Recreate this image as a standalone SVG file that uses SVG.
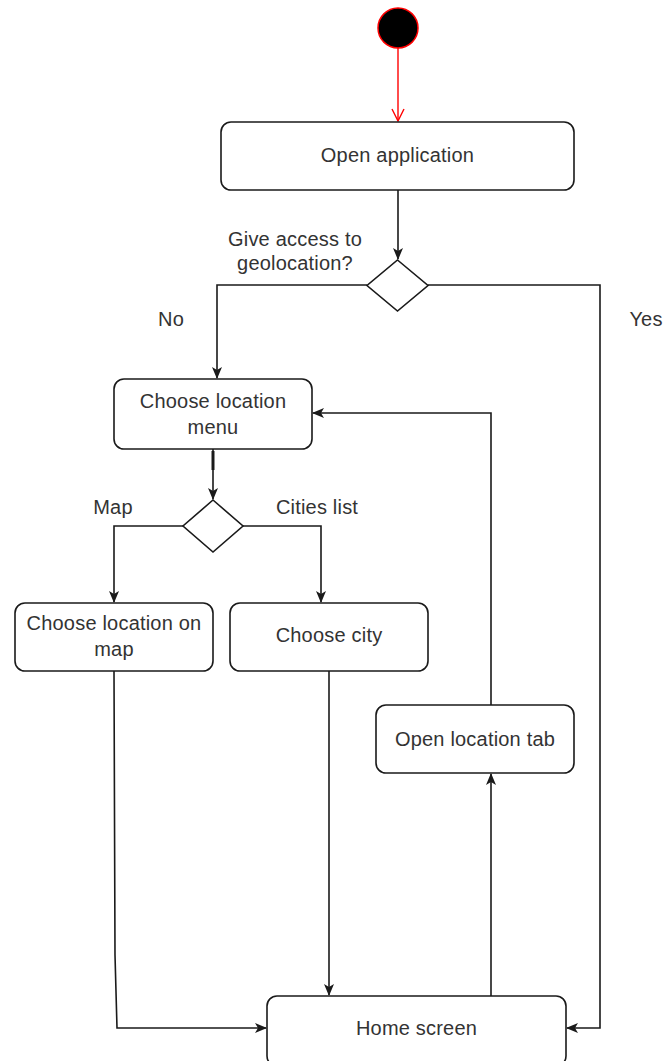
<svg xmlns="http://www.w3.org/2000/svg" width="664" height="1061" viewBox="0 0 664 1061">
  <style>
    .box { fill: #ffffff; stroke: #1a1a1a; stroke-width: 1.6; }
    .dec { fill: #ffffff; stroke: #1a1a1a; stroke-width: 1.6; }
    .edge { fill: none; stroke: #1a1a1a; stroke-width: 1.6; }
    .lbl { font-family: "Liberation Sans", Arial, sans-serif; font-size: 20px; letter-spacing: 0.2px; fill: #333333; text-anchor: middle; }
  </style>
  <defs>
    <marker id="arrow" viewBox="0 0 12 10" refX="11" refY="5" markerWidth="12" markerHeight="10" markerUnits="userSpaceOnUse" orient="auto">
      <path d="M0,0 L12,5 L0,10 L3,5 Z" fill="#1a1a1a"/>
    </marker>
    <marker id="open" viewBox="0 0 14 14" refX="13" refY="7" markerWidth="14" markerHeight="14" markerUnits="userSpaceOnUse" orient="auto">
      <path d="M1,1 L13,7 L1,13" fill="none" stroke="#ff0000" stroke-width="1.4"/>
    </marker>
  </defs>
  <rect width="664" height="1061" fill="#ffffff"/>

  <!-- connectors -->
  <g id="connectors">
    <path d="M398,48 L398,121" fill="none" stroke="#ff0000" stroke-width="1.4" marker-end="url(#open)"/>
    <path class="edge" d="M398,190 L398,259" marker-end="url(#arrow)"/>
    <path class="edge" d="M367,285 L217,285 L217,378" marker-end="url(#arrow)"/>
    <path class="edge" d="M428,285 L600,285 L600,1028 L567,1028" marker-end="url(#arrow)"/>
    <path class="edge" d="M213,449 L213,499" marker-end="url(#arrow)"/>
    <path d="M213,451 L213,470" stroke="#1a1a1a" stroke-width="3" fill="none"/>
    <path class="edge" d="M183,526 L114,526 L114,602" marker-end="url(#arrow)"/>
    <path class="edge" d="M243,526 L321,526 L321,602" marker-end="url(#arrow)"/>
    <path class="edge" d="M114,671 L115,955 L117,1028 L266,1028" marker-end="url(#arrow)"/>
    <path class="edge" d="M329,671 L329,995" marker-end="url(#arrow)"/>
    <path class="edge" d="M491,996 L491,774" marker-end="url(#arrow)"/>
    <path class="edge" d="M491,705 L491,413 L313,413" marker-end="url(#arrow)"/>
  </g>

  <g id="start">
    <circle cx="398" cy="28" r="20" fill="#000000" stroke="#ff0000" stroke-width="1.5"/>
  </g>

  <g id="open-application">
    <rect class="box" x="221" y="122" width="353" height="68" rx="10"/>
    <text class="lbl" x="397.5" y="162">Open application</text>
  </g>

  <g id="geo-decision">
    <path class="dec" d="M397.5,260 L428,285.5 L397.5,311 L367,285.5 Z"/>
    <text class="lbl" x="295" y="246">Give access to</text>
    <text class="lbl" x="295" y="270">geolocation?</text>
    <text class="lbl" x="171" y="326">No</text>
    <text class="lbl" x="646" y="326">Yes</text>
  </g>

  <g id="choose-location-menu">
    <rect class="box" x="114" y="379" width="198" height="70" rx="10"/>
    <text class="lbl" x="213" y="408">Choose location</text>
    <text class="lbl" x="213" y="434">menu</text>
  </g>

  <g id="method-decision">
    <path class="dec" d="M213,500 L243,526 L213,552 L183,526 Z"/>
    <text class="lbl" x="113" y="514">Map</text>
    <text class="lbl" x="317" y="514">Cities list</text>
  </g>

  <g id="choose-location-on-map">
    <rect class="box" x="15" y="603" width="198" height="68" rx="10"/>
    <text class="lbl" x="114" y="630">Choose location on</text>
    <text class="lbl" x="114" y="656">map</text>
  </g>

  <g id="choose-city">
    <rect class="box" x="230" y="603" width="198" height="68" rx="10"/>
    <text class="lbl" x="329" y="642">Choose city</text>
  </g>

  <g id="open-location-tab">
    <rect class="box" x="376" y="705" width="198" height="68" rx="10"/>
    <text class="lbl" x="475" y="746">Open location tab</text>
  </g>

  <g id="home-screen">
    <rect class="box" x="267" y="996" width="299" height="70" rx="10"/>
    <text class="lbl" x="416.5" y="1035">Home screen</text>
  </g>
</svg>
